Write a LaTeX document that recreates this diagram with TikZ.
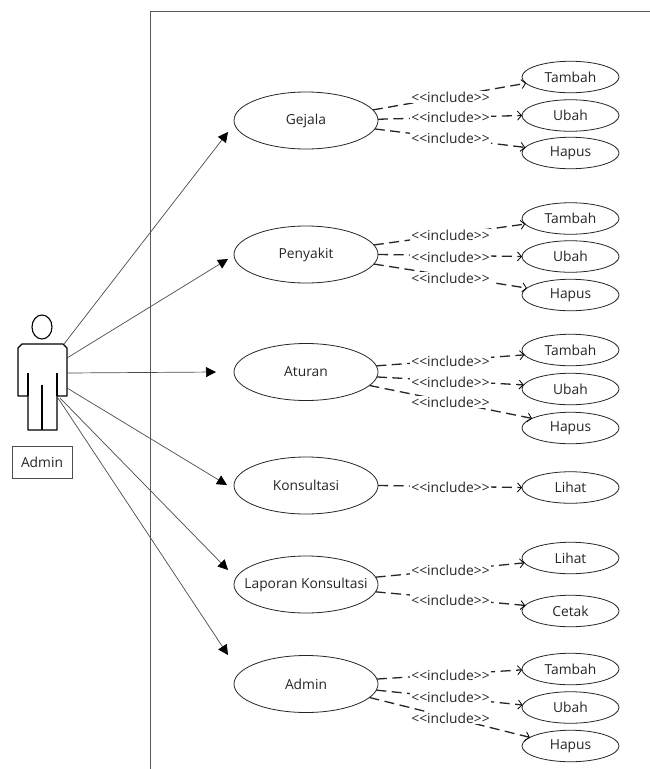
\documentclass[tikz,border=0pt]{standalone}
\usepackage{fontspec}
\setmainfont{Open Sans}
\usetikzlibrary{arrows.meta,shapes.geometric}
\tikzset{
 big/.style={draw=black!85,line width=.8pt,ellipse,minimum width=144pt,minimum height=57pt,inner xsep=-30pt,inner ysep=0pt,outer sep=0pt,text=black!85,font=\fontsize{13.8}{15}\selectfont},
 small/.style={draw=black!85,line width=.8pt,ellipse,minimum width=97pt,minimum height=31.5pt,inner xsep=-10pt,inner ysep=-4pt,outer sep=0pt,text=black!85,font=\fontsize{13.8}{15}\selectfont},
 assoc/.style={draw=black!70,line width=.7pt,-{Triangle[length=10pt,width=10pt,black]}},
 incl/.style={draw=black!85,line width=1.3pt,dash pattern=on 10pt off 5.5pt,-{Straight Barb[length=4pt,width=9pt,line width=.8pt,black]}},
 lbl/.style={fill=white,inner sep=1pt,font=\fontsize{13.8}{15}\selectfont,text=black!85},
 body/.style={draw=black,line width=1.1pt,line join=round}
}
\begin{document}
\begin{tikzpicture}[x=1pt,y=-1pt]
\useasboundingbox (0,0) rectangle (650,769);
\fill[white] (0,0) rectangle (650,769);
\draw[black!65,line width=.8pt] (150,769) -- (150,11) -- (650,11);
% actor
\draw[body] (42,327) ellipse (10 and 12);
\draw[body] (22,344) -- (63,344) -- (67,348) -- (67,396) -- (57,396) -- (57,430) -- (28,430) -- (28,396) -- (18,396) -- (18,348) -- cycle;
\draw[body] (28,373) -- (28,396) (57,373) -- (57,396) (42,385) -- (42,430);
\node[draw=black!70,line width=.6pt,minimum width=60pt,minimum height=32pt,inner sep=0pt,text=black!85,font=\fontsize{13.8}{15}\selectfont] (adm) at (42,462) {Admin};
% use cases
\node[big] (g) at (306,120.5) {Gejala};
\node[big] (p) at (306,254.5) {Penyakit};
\node[big] (a) at (306,372) {Aturan};
\node[big] (k) at (306,485.5) {Konsultasi};
\node[big] (l) at (306,584.5) {Laporan Konsultasi};
\node[big] (m) at (306,684) {Admin};
\node[small] (g1) at (570.5,77) {Tambah};
\node[small] (g2) at (570.5,115.5) {Ubah};
\node[small] (g3) at (570.5,153) {Hapus};
\node[small] (p1) at (570.5,218.5) {Tambah};
\node[small] (p2) at (570.5,256.5) {Ubah};
\node[small] (p3) at (570.5,295) {Hapus};
\node[small] (a1) at (570.5,350) {Tambah};
\node[small] (a2) at (570.5,389) {Ubah};
\node[small] (a3) at (570.5,428) {Hapus};
\node[small] (k1) at (570.5,487.5) {Lihat};
\node[small] (l1) at (570.5,558) {Lihat};
\node[small] (l2) at (570.5,611) {Cetak};
\node[small] (m1) at (570.5,669) {Tambah};
\node[small] (m2) at (570.5,707.5) {Ubah};
\node[small] (m3) at (570.5,746) {Hapus};
% actor ports and arrow ends
\coordinate (s1) at (64,344);
\coordinate (s2) at (67,358);
\coordinate (s3) at (67,373);
\coordinate (s4) at (67,388);
\coordinate (s5) at (60,398);
\coordinate (s6) at (58,398);
\coordinate (e1) at (228,132);
\coordinate (e2) at (228,259);
\coordinate (e3) at (216,372);
\coordinate (e4) at (227,485);
\coordinate (e5) at (228,570);
\coordinate (e6) at (228,655);
\draw[assoc] (s1) -- (e1);
\draw[assoc] (s2) -- (e2);
\draw[assoc] (s3) -- (e3);
\draw[assoc] (s4) -- (e4);
\draw[assoc] (s5) -- (e5);
\draw[assoc] (s6) -- (e6);
% includes
\draw[incl] (g.9.7) -- (g1.188);
\draw[incl] (g.1) -- (g2.180);
\draw[incl] (g.-7) -- (g3.173.4);
\draw[incl] (p.8.2) -- (p1.187);
\draw[incl] (p.0) -- (p2.180);
\draw[incl] (p.-8.6) -- (p3.171);
\draw[incl] (a.5.7) -- (a1.186);
\draw[incl] (a.-4) -- (a2.175);
\draw[incl] (a.-12.3) -- (a3.166);
\draw[incl] (k.0) -- (k1.180);
\draw[incl] (l.6) -- (l1.186.4);
\draw[incl] (l.-6) -- (l2.173.6);
\draw[incl] (m.4) -- (m1.181);
\draw[incl] (m.-5.5) -- (m2.177);
\draw[incl] (m.-12.3) -- (m3.168.5);
% labels
\node[lbl] (lg1) at (450.5,97) {<{}<include>{}>};
\node[lbl] (lg2) at (450.5,117) {<{}<include>{}>};
\node[lbl] (lg3) at (450.5,138) {<{}<include>{}>};
\node[lbl] (lp1) at (450.5,235) {<{}<include>{}>};
\node[lbl] (lp2) at (450.5,257) {<{}<include>{}>};
\node[lbl] (lp3) at (450.5,278) {<{}<include>{}>};
\node[lbl] (la1) at (450.5,361) {<{}<include>{}>};
\node[lbl] (la2) at (450.5,382) {<{}<include>{}>};
\node[lbl] (la3) at (450.5,402) {<{}<include>{}>};
\node[lbl] (lk) at (450.5,487) {<{}<include>{}>};
\node[lbl] (ll1) at (450.5,570) {<{}<include>{}>};
\node[lbl] (ll2) at (450.5,600) {<{}<include>{}>};
\node[lbl] (lm1) at (450.5,675) {<{}<include>{}>};
\node[lbl] (lm2) at (450.5,697) {<{}<include>{}>};
\node[lbl] (lm3) at (450.5,718) {<{}<include>{}>};
\end{tikzpicture}
\end{document}
